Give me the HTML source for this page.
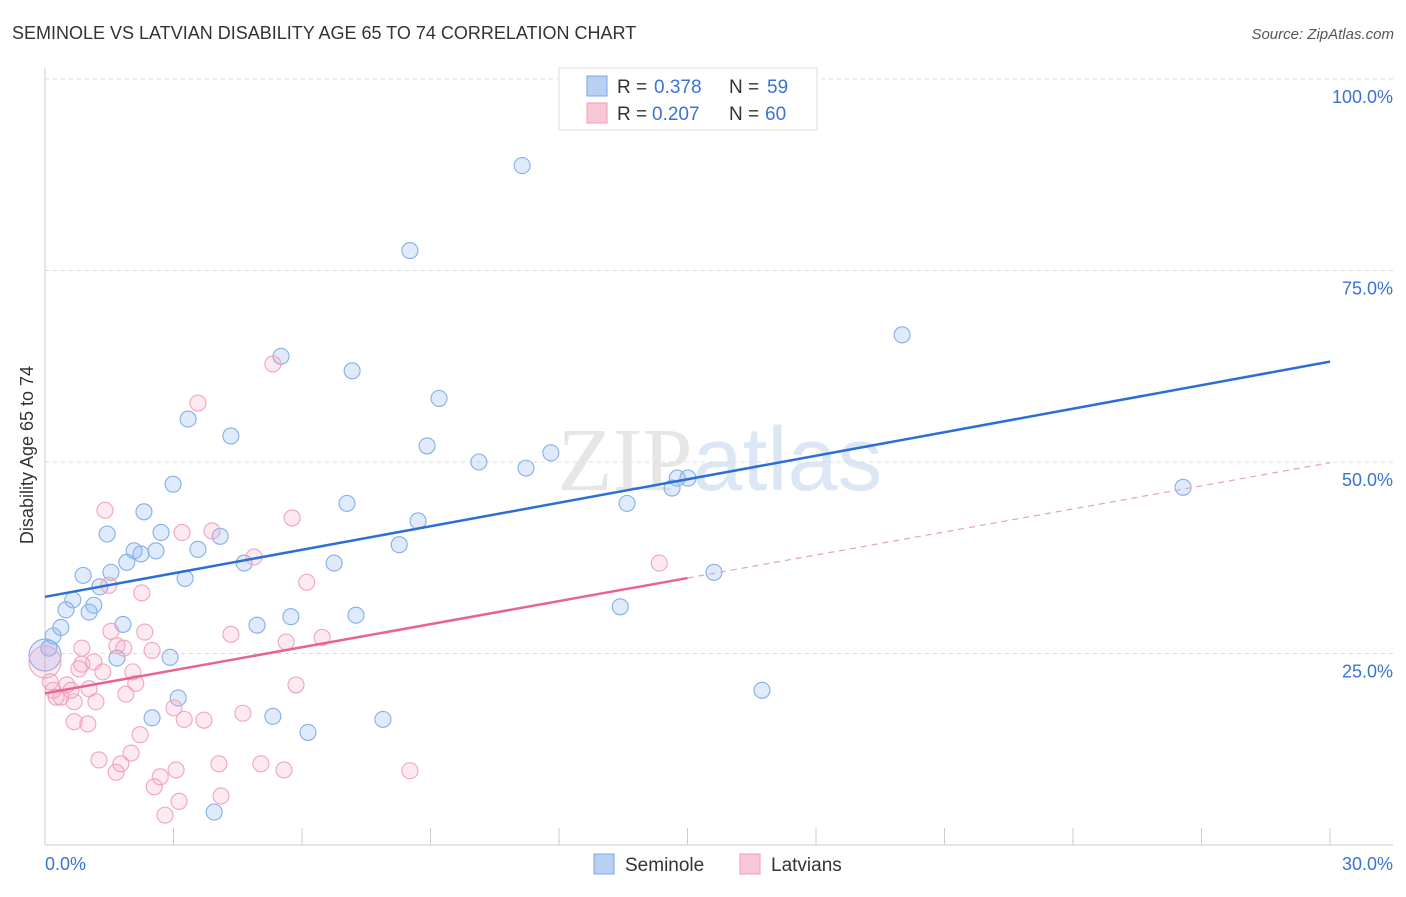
<!DOCTYPE html>
<html><head><meta charset="utf-8"><style>
body{margin:0;background:#fff;font-family:"Liberation Sans",sans-serif;}
svg text{font-family:"Liberation Sans",sans-serif;}
</style></head><body>
<svg width="1406" height="892" viewBox="0 0 1406 892" id="chart">
<text x="12" y="39" font-size="18" fill="#333">SEMINOLE VS LATVIAN DISABILITY AGE 65 TO 74 CORRELATION CHART</text>
<text x="1394" y="39" font-size="15" fill="#555" font-style="italic" text-anchor="end">Source: ZipAtlas.com</text>
<text x="720" y="490" font-size="90" text-anchor="middle"><tspan fill="#e6e6e6" font-family="Liberation Serif">ZIP</tspan><tspan fill="#dce7f6">atlas</tspan></text>
<g id="grid"></g>
<g id="axes"></g>
<text transform="translate(33,455) rotate(-90)" font-size="18" fill="#333" text-anchor="middle">Disability Age 65 to 74</text>
<g id="pts"></g>
<g id="lines"></g>
<g>
<rect x="559" y="68" width="258" height="62" fill="#fff" stroke="#ddd"/>
<rect x="587" y="76" width="20" height="20" fill="#b8d1f3" stroke="#7aa6e6"/>
<rect x="587" y="103" width="20" height="20" fill="#f8c8d8" stroke="#f09ab8"/>
<text x="617" y="93" font-size="19" fill="#333">R =</text>
<text x="654" y="93" font-size="19" fill="#3b73d1">0.378</text>
<text x="729" y="93" font-size="19" fill="#333">N =</text>
<text x="767" y="93" font-size="19" fill="#3b73d1">59</text>
<text x="617" y="120" font-size="19" fill="#333">R =</text>
<text x="652" y="120" font-size="19" fill="#3b73d1">0.207</text>
<text x="729" y="120" font-size="19" fill="#333">N =</text>
<text x="765" y="120" font-size="19" fill="#3b73d1">60</text>
</g>
<g>
<rect x="594" y="854" width="20" height="20" fill="#b8d1f3" stroke="#7aa6e6"/>
<text x="625" y="871" font-size="19" fill="#333">Seminole</text>
<rect x="740" y="854" width="20" height="20" fill="#f8c8d8" stroke="#f09ab8"/>
<text x="771" y="871" font-size="19" fill="#333">Latvians</text>
</g>
</svg>
<script>
const yTicks=[25,50,75,100];
const yTickLabels=["25.0%","50.0%","75.0%","100.0%"];
const xTickCount=10;
const blueX=[11.14,8.52,20.01,5.51,7.17,9.20,3.34,4.34,8.92,11.81,10.13,11.23,2.99,14.76,15.01,14.64,26.57,13.59,7.05,2.31,8.71,1.45,2.71,4.09,8.27,3.57,2.08,2.59,2.24,1.91,4.65,6.75,0.89,1.54,15.62,3.27,1.28,0.65,1.14,0.49,1.03,13.43,5.74,7.26,0.37,1.82,4.95,0.19,0.09,1.68,2.92,3.11,16.74,2.50,5.32,7.89,6.14,3.95,0];
const blueY=[88.7,77.6,66.6,63.8,61.9,58.3,55.6,53.4,52.1,51.2,50.0,49.2,47.1,47.9,47.9,46.6,46.7,44.6,44.6,43.5,42.3,40.6,40.8,40.3,39.2,38.6,38.4,38.4,38.0,36.9,36.8,36.8,35.2,35.6,35.6,34.8,33.7,32.0,31.3,30.7,30.4,31.1,29.8,30.0,28.4,28.8,28.7,27.3,25.7,24.4,24.5,19.2,20.2,16.6,16.8,16.4,14.7,4.3,24.8];
const pinkX=[5.32,3.57,1.40,5.77,3.20,3.90,4.88,1.49,6.11,2.26,14.34,1.54,2.33,4.34,6.47,5.63,0.86,1.68,1.84,2.50,1.14,0.86,0.79,1.35,2.05,2.12,5.86,0.12,0.51,0.19,0.61,1.03,0.26,0.37,1.89,1.19,0.68,3.01,0.68,1.00,3.25,3.71,4.62,2.22,2.01,1.26,1.77,1.66,4.06,5.04,5.58,8.52,3.06,2.69,2.55,3.13,4.11,2.80,0];
const pinkY=[62.8,57.7,43.7,42.7,40.8,41.0,37.6,33.9,34.3,32.9,36.8,27.9,27.8,27.5,27.1,26.5,25.7,26.0,25.7,25.4,23.9,23.6,23.0,22.6,22.6,21.1,20.9,21.3,20.9,20.2,20.2,20.4,19.3,19.3,19.7,18.7,18.7,17.9,16.1,15.8,16.4,16.3,17.2,14.4,12.0,11.1,10.6,9.5,10.6,10.6,9.8,9.7,9.8,8.9,7.6,5.7,6.4,3.9,23.9];
const blueTrend=[32.4,63.1];
const pinkTrend=[19.8,49.9];
const pinkSolidEnd=15;
const NS="http://www.w3.org/2000/svg";
const X=v=>45+v/30*1285, Y=v=>845-v*7.66;
function mk(t,a,p){const e=document.createElementNS(NS,t);for(const k in a)e.setAttribute(k,a[k]);p.appendChild(e);return e;}
const grid=document.getElementById('grid'),axes=document.getElementById('axes');
yTicks.forEach((t,i)=>{
 const g=mk('line',{x1:45,x2:1393,y1:Y(t),y2:Y(t),stroke:'#ddd','stroke-dasharray':'4,4'},grid);
 
 
 const tx=mk('text',{x:1393,y:Y(t)+24,'font-size':18,fill:'#3b73d1','text-anchor':'end'},axes);
 tx.textContent=yTickLabels[i];
 
 
});
mk('line',{x1:45,x2:45,y1:68,y2:845,stroke:'#ccc'},axes);
mk('line',{x1:45,x2:1393,y1:845,y2:845,stroke:'#ccc'},axes);
for(let i=0;i<=xTickCount;i++){const t=mk('line',{x1:X(i*3),x2:X(i*3),y1:828,y2:845,stroke:'#ccc'},axes);
 
 }
const x0=mk('text',{x:45,y:870,'font-size':18,fill:'#3b73d1'},axes);x0.textContent='0.0%';


const x1=mk('text',{x:1393,y:870,'font-size':18,fill:'#3b73d1','text-anchor':'end'},axes);x1.textContent='30.0%';


const pts=document.getElementById('pts');
function draw(xs,ys,fill,stroke,name){xs.forEach((x,i)=>{const big=(x===0);
 const c=mk('circle',{cx:X(x),cy:Y(ys[i]),r:big?16:8,fill:fill,stroke:stroke,'stroke-width':1.1},pts);
 
 });}
draw(blueX,blueY,'rgba(140,180,240,0.28)','#86aee8','seminole-point');
draw(pinkX,pinkY,'rgba(245,160,190,0.22)','#f2a2be','latvians-point');
const lines=document.getElementById('lines');
const bl=mk('line',{x1:X(0),y1:Y(blueTrend[0]),x2:X(30),y2:Y(blueTrend[1]),stroke:'#2b6fd6','stroke-width':2.5},lines);


const pAt=v=>pinkTrend[0]+(pinkTrend[1]-pinkTrend[0])*v/30;
const pl=mk('line',{x1:X(0),y1:Y(pAt(0)),x2:X(pinkSolidEnd),y2:Y(pAt(pinkSolidEnd)),stroke:'#e8638f','stroke-width':2.5},lines);


const pd=mk('line',{x1:X(pinkSolidEnd),y1:Y(pAt(pinkSolidEnd)),x2:X(30),y2:Y(pAt(30)),stroke:'#e8a0b8','stroke-width':1.2,'stroke-dasharray':'6,5'},lines);


</script>
</body></html>
